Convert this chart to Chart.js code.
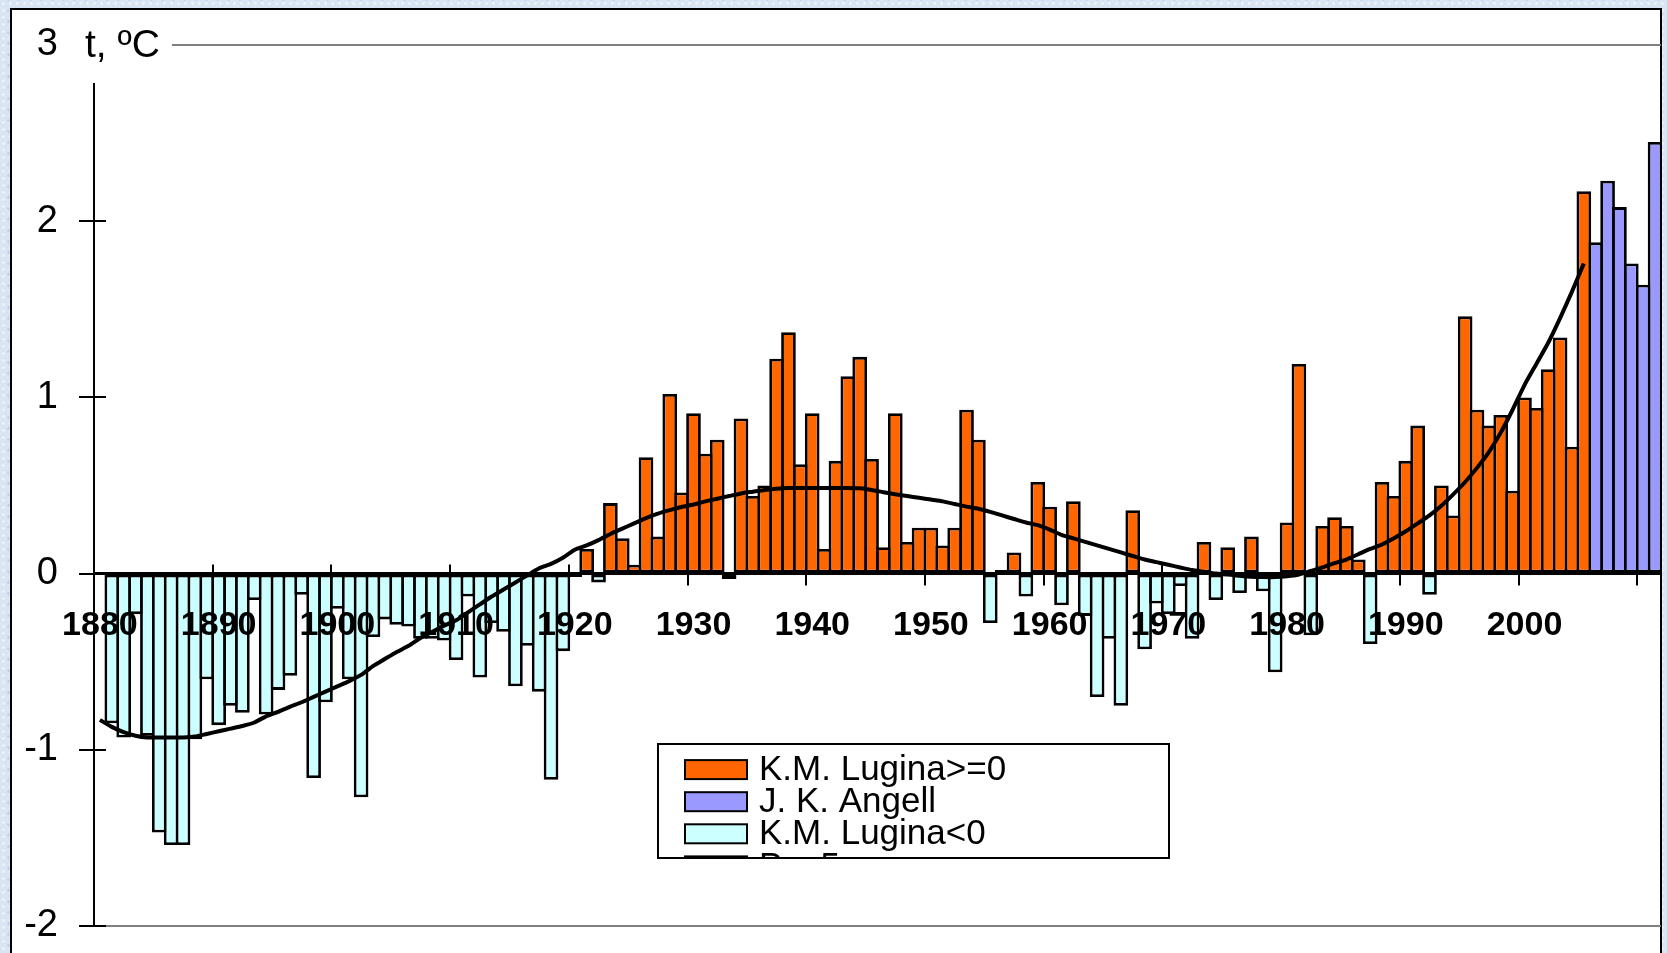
<!DOCTYPE html>
<html>
<head>
<meta charset="utf-8">
<title>t, ºC</title>
<script src="https://cdn.jsdelivr.net/npm/chart.js@4.4.1/dist/chart.umd.min.js"></script>
<style>
    html, body {
        margin: 0;
        padding: 0;
        width: 1667px;
        height: 953px;
        overflow: hidden;
    }
    body {
        background-color: #d9e5f3;
        background-image:
            radial-gradient(rgba(255, 255, 255, 0.55) 1px, transparent 1.6px),
            radial-gradient(rgba(160, 188, 222, 0.45) 1px, transparent 1.6px);
        background-size: 7px 7px, 11px 11px;
        background-position: 0 0, 3px 5px;
    }
    #frame {
        position: absolute;
        left: 10px;
        top: 8px;
        width: 1648px;
        height: 1000px;
        border: 2px solid #000;
        background: #fff;
    }
    #tempChart {
        position: absolute;
        left: 0;
        top: 0;
    }
</style>
</head>
<body>
<div id="frame"></div>
<canvas id="tempChart" width="1667" height="953"></canvas>

<script>
// years on the category axis
const years = [
    1880, 1881, 1882, 1883, 1884, 1885, 1886, 1887, 1888, 1889,
    1890, 1891, 1892, 1893, 1894, 1895, 1896, 1897, 1898, 1899,
    1900, 1901, 1902, 1903, 1904, 1905, 1906, 1907, 1908, 1909,
    1910, 1911, 1912, 1913, 1914, 1915, 1916, 1917, 1918, 1919,
    1920, 1921, 1922, 1923, 1924, 1925, 1926, 1927, 1928, 1929,
    1930, 1931, 1932, 1933, 1934, 1935, 1936, 1937, 1938, 1939,
    1940, 1941, 1942, 1943, 1944, 1945, 1946, 1947, 1948, 1949,
    1950, 1951, 1952, 1953, 1954, 1955, 1956, 1957, 1958, 1959,
    1960, 1961, 1962, 1963, 1964, 1965, 1966, 1967, 1968, 1969,
    1970, 1971, 1972, 1973, 1974, 1975, 1976, 1977, 1978, 1979,
    1980, 1981, 1982, 1983, 1984, 1985, 1986, 1987, 1988, 1989,
    1990, 1991, 1992, 1993, 1994, 1995, 1996, 1997, 1998, 1999,
    2000, 2001, 2002, 2003, 2004, 2005, 2006, 2007, 2008, 2009,
    2010, 2011
];

// K.M. Lugina anomalies, 1880-2005
const lugina = [
    null, -0.85, -0.93, -0.23, -0.92, -1.47, -1.54, -1.54, -0.94, -0.60,
    -0.86, -0.75, -0.79, -0.15, -0.80, -0.66, -0.58, -0.12, -1.16, -0.73,
    -0.20, -0.60, -1.27, -0.36, -0.26, -0.29, -0.30, -0.37, -0.37, -0.38,
    -0.49, -0.13, -0.59, -0.28, -0.33, -0.64, -0.41, -0.67, -1.17, -0.44,
    -0.02, 0.14, -0.05, 0.40, 0.20, 0.05, 0.66, 0.21, 1.02, 0.46,
    0.91, 0.68, 0.76, -0.03, 0.88, 0.44, 0.50, 1.22, 1.37, 0.62,
    0.91, 0.14, 0.64, 1.12, 1.23, 0.65, 0.15, 0.91, 0.18, 0.26,
    0.26, 0.16, 0.26, 0.93, 0.76, -0.28, 0.02, 0.12, -0.13, 0.52,
    0.38, -0.18, 0.41, -0.24, -0.70, -0.37, -0.75, 0.36, -0.43, -0.17,
    -0.23, -0.07, -0.37, 0.18, -0.15, 0.15, -0.11, 0.21, -0.10, -0.56,
    0.29, 1.19, -0.35, 0.27, 0.32, 0.27, 0.08, -0.40, 0.52, 0.44,
    0.64, 0.84, -0.12, 0.50, 0.33, 1.46, 0.93, 0.84, 0.90, 0.47,
    1.00, 0.94, 1.16, 1.34, 0.72, 2.17
];

// J. K. Angell, 2006-2011
const angellYears = [2006, 2007, 2008, 2009, 2010, 2011];
const angell = [1.88, 2.23, 2.08, 1.76, 1.64, 2.45];

// smoothed curve, 1880-2005
const trend = [
    -0.83, -0.87, -0.90, -0.92, -0.93, -0.93, -0.93, -0.93, -0.925, -0.91,
    -0.895, -0.88, -0.865, -0.845, -0.81, -0.785, -0.756, -0.73, -0.70, -0.67,
    -0.64, -0.61, -0.575, -0.525, -0.485, -0.445, -0.41, -0.365, -0.33, -0.295,
    -0.265, -0.22, -0.175, -0.13, -0.09, -0.05, -0.01, 0.03, 0.055, 0.09,
    0.135, 0.16, 0.19, 0.225, 0.255, 0.285, 0.315, 0.34, 0.36, 0.378,
    0.392, 0.41, 0.425, 0.44, 0.455, 0.465, 0.475, 0.482, 0.486, 0.486,
    0.486, 0.486, 0.486, 0.486, 0.484, 0.475, 0.462, 0.45, 0.44, 0.43,
    0.42, 0.41, 0.395, 0.38, 0.368, 0.35, 0.33, 0.31, 0.29, 0.275,
    0.25, 0.22, 0.20, 0.18, 0.16, 0.14, 0.12, 0.10, 0.08, 0.065,
    0.05, 0.035, 0.02, 0.01, 0.0, -0.005, -0.012, -0.018, -0.02, -0.02,
    -0.015, -0.005, 0.015, 0.035, 0.06, 0.08, 0.11, 0.14, 0.165, 0.20,
    0.24, 0.285, 0.33, 0.385, 0.45, 0.52, 0.60, 0.69, 0.80, 0.93,
    1.07, 1.19, 1.31, 1.45, 1.60, 1.76
];

const xTickLabels = ['1880', '1890', '1900', '1910', '1920', '1930', '1940',
                     '1950', '1960', '1970', '1980', '1990', '2000'];
const yTickValues = [3, 2, 1, 0, -1, -2];

// split the series into per-year arrays over the full axis
const luginaPos = years.map((y, i) => (i < lugina.length && lugina[i] !== null && lugina[i] >= 0) ? lugina[i] : null);
const luginaNeg = years.map((y, i) => (i < lugina.length && lugina[i] !== null && lugina[i] < 0) ? lugina[i] : null);
const angellData = years.map(y => {
    const k = angellYears.indexOf(y);
    return k >= 0 ? angell[k] : null;
});
const trendData = years.map((y, i) => i < trend.length ? trend[i] : null);

Chart.defaults.font.family = "'Liberation Sans', Arial, sans-serif";
Chart.defaults.color = '#000';

// tick marks, unit caption and legend
const decorations = {
    id: 'decorations',
    afterDraw(chart) {
        const ctx = chart.ctx;
        const xs = chart.scales.x;
        const ys = chart.scales.y;
        const zero = ys.getPixelForValue(0);

        ctx.save();
        ctx.strokeStyle = '#000';
        ctx.lineWidth = 2;
        // y ticks cross the axis line
        yTickValues.forEach(v => {
            const py = Math.round(ys.getPixelForValue(v));
            ctx.beginPath();
            ctx.moveTo(79, py);
            ctx.lineTo(106, py);
            ctx.stroke();
        });
        // x ticks on the decade boundaries
        years.forEach((y, i) => {
            if (i === 0 || y % 10 !== 0) return;
            const px = Math.round((xs.getPixelForValue(i - 1) + xs.getPixelForValue(i)) / 2);
            ctx.beginPath();
            ctx.moveTo(px, zero - 9);
            ctx.lineTo(px, zero + 12);
            ctx.stroke();
        });

        // unit caption sits on a white box over the top of the axis
        ctx.fillStyle = '#fff';
        ctx.fillRect(76, 16, 96, 67);
        ctx.fillStyle = '#000';
        ctx.font = "39px 'Liberation Sans', Arial, sans-serif";
        ctx.textBaseline = 'middle';
        ctx.textAlign = 'left';
        ctx.fillText('t, ºC', 85, 46);

        // legend box, last row cut off by the frame
        const box = {x: 658, y: 744, w: 511, h: 114};
        ctx.fillStyle = '#fff';
        ctx.fillRect(box.x, box.y, box.w, box.h);
        ctx.save();
        ctx.beginPath();
        ctx.rect(box.x + 1, box.y + 1, box.w - 2, box.h - 2);
        ctx.clip();
        ctx.font = "35px 'Liberation Sans', Arial, sans-serif";
        chart.data.datasets.forEach((ds, i) => {
            const cy = box.y + 25.6 + i * 32.1;
            ctx.fillStyle = ds.type === 'line' ? '#fff' : ds.backgroundColor;
            ctx.fillRect(685, cy - 9.5, 62, 19);
            ctx.lineWidth = 2;
            ctx.strokeStyle = '#000';
            ctx.strokeRect(685, cy - 9.5, 62, 19);
            ctx.fillStyle = '#000';
            ctx.fillText(ds.label, 759, cy + 1);
        });
        ctx.restore();
        ctx.lineWidth = 2;
        ctx.strokeStyle = '#000';
        ctx.strokeRect(box.x, box.y, box.w, box.h);
        ctx.restore();
    }
};

// neighbouring bars overlap by one border width so shared edges stay single
const barStyle = {
    grouped: false,
    barPercentage: 1.236,
    categoryPercentage: 1,
    borderColor: '#000',
    borderWidth: 2.8,
    borderSkipped: false,
    clip: 0,
    order: 1
};

const ctx = document.getElementById('tempChart').getContext('2d');
const tempChart = new Chart(ctx, {
    type: 'bar',
    data: {
        labels: years,
        datasets: [
            Object.assign({label: 'K.M. Lugina>=0', data: luginaPos, backgroundColor: '#FF6600'}, barStyle),
            Object.assign({label: 'J. K. Angell', data: angellData, backgroundColor: '#9999FF'}, barStyle),
            Object.assign({label: 'K.M. Lugina<0', data: luginaNeg, backgroundColor: '#CCFFFF'}, barStyle),
            {
                type: 'line',
                label: 'Ряд5',
                data: trendData,
                borderColor: '#000',
                borderWidth: 4,
                pointRadius: 0,
                fill: false,
                tension: 0.2,
                order: 0
            }
        ]
    },
    options: {
        responsive: false,
        animation: false,
        devicePixelRatio: 1,
        layout: {padding: {left: 0, right: 6, top: 45, bottom: 27}},
        plugins: {
            legend: {display: false},
            tooltip: {enabled: false}
        },
        scales: {
            x: {
                position: {y: 0},
                grid: {drawOnChartArea: false, drawTicks: false, color: 'transparent'},
                border: {color: '#000', width: 3, z: 1},
                ticks: {
                    z: 1,
                    autoSkip: false,
                    maxRotation: 0,
                    minRotation: 0,
                    padding: 32,
                    color: '#000',
                    font: {size: 34, weight: 'bold'},
                    callback: function (value, index) {
                        const label = String(years[index]);
                        return xTickLabels.includes(label) ? label : '';
                    }
                },
                afterFit: function (scale) {
                    scale.height = 0;
                    scale.paddingLeft = 0;
                    scale.paddingRight = 0;
                }
            },
            y: {
                min: -2,
                max: 3,
                ticks: {stepSize: 1, padding: 36, color: '#000', font: {size: 38}},
                grid: {
                    drawTicks: false,
                    lineWidth: 2,
                    color: c => (c.tick && (c.tick.value === 3 || c.tick.value === -2)) ? '#808080' : 'transparent'
                },
                border: {color: '#000', width: 2},
                afterFit: function (scale) {
                    scale.width = 94;
                    scale.paddingTop = 0;
                    scale.paddingBottom = 0;
                }
            }
        }
    },
    plugins: [decorations]
});
</script>
</body>
</html>
